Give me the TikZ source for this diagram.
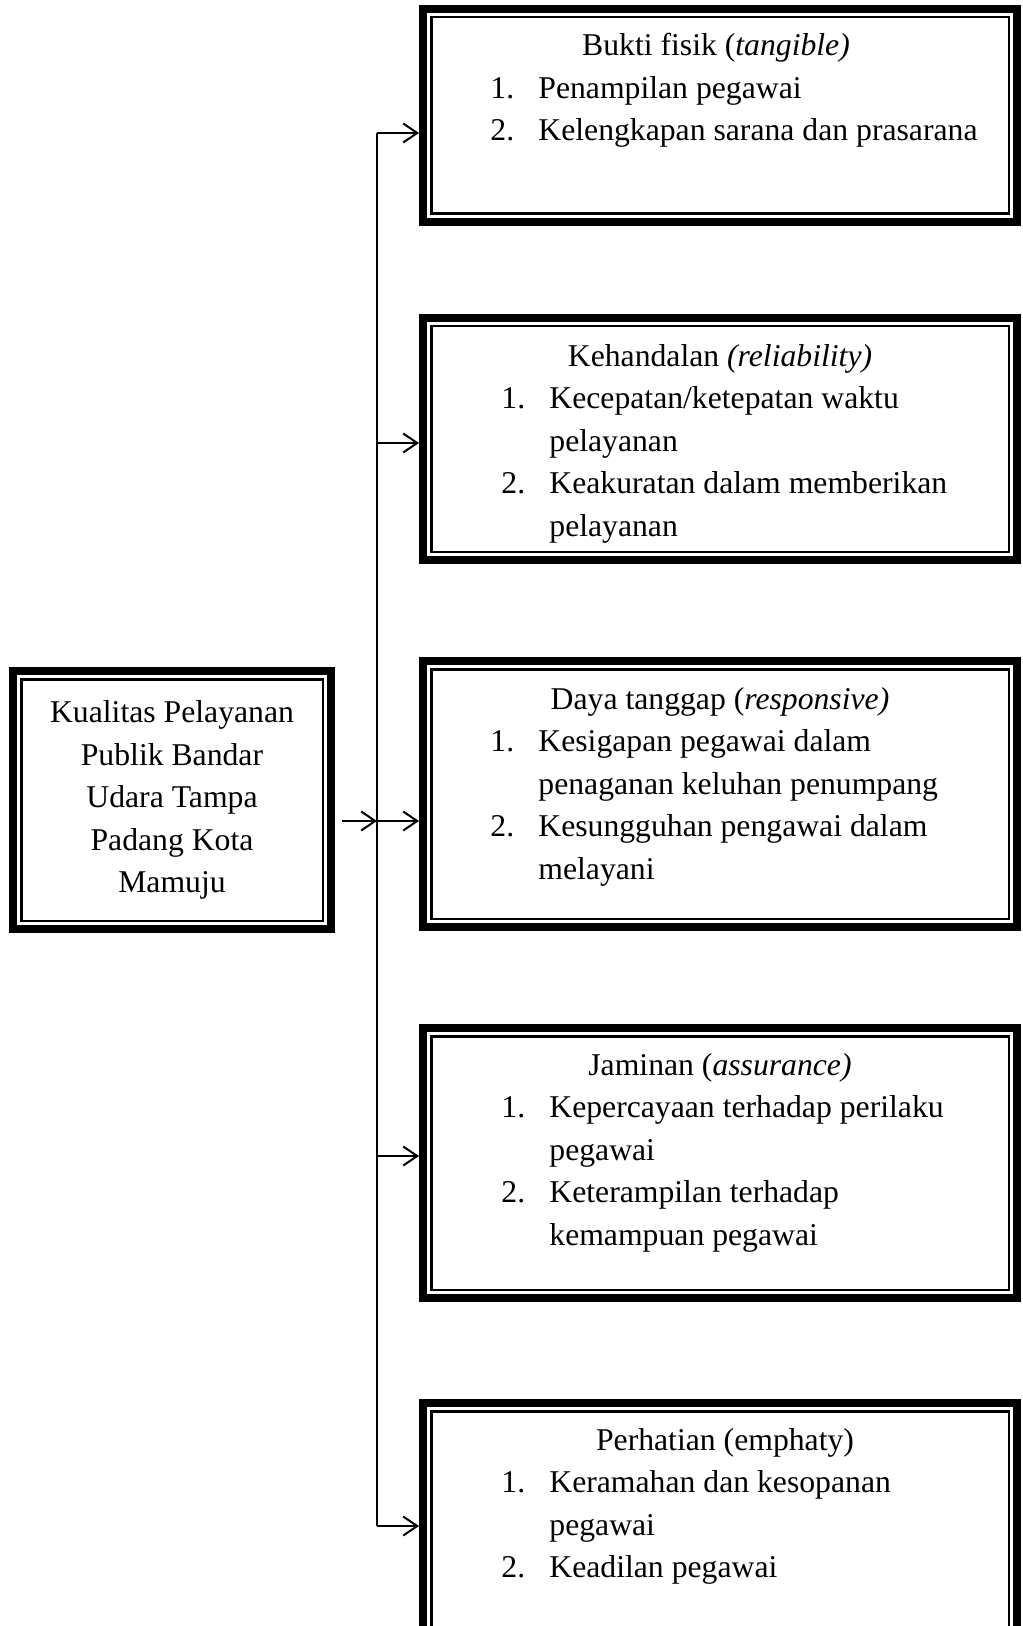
\documentclass[tikz,border=0pt]{standalone}
\usepackage{fontspec}
\setmainfont{Liberation Serif}
\usetikzlibrary{positioning,arrows.meta}

\newcommand{\innerframe}[1]{%
    \draw[line width=1.1pt] ([shift={(6.2pt,-6.2pt)}]#1.north west) rectangle ([shift={(-6.2pt,6.2pt)}]#1.south east);}

\begin{document}
\begin{tikzpicture}[
    x=0.5pt, y=-0.5pt,
    every node/.style={font=\fontsize{15.85}{21.25}\selectfont},
    kotak/.style={draw, line width=4pt, minimum width=297pt, inner sep=0pt},
    kiri/.style={draw, line width=4pt, minimum width=159pt, minimum height=129pt, align=center, inner sep=0pt},
    judul/.style={anchor=base},
    daftar/.style={anchor=base west, inner sep=0pt},
    panah/.style={-{Straight Barb[length=7pt,width=9.5pt]}, line width=1pt},
    garis/.style={line width=1pt}
]
    \useasboundingbox (0,0) rectangle (1022,1626);

    \node[kiri] (kualitas) at (172,800) {Kualitas Pelayanan\\Publik Bandar\\Udara Tampa\\Padang Kota\\Mamuju};
    \node[kotak, minimum height=106.5pt] (fisik) at (720,115.5) {};
    \node[kotak, minimum height=121pt] (handal) at (720,439) {};
    \node[kotak, minimum height=133pt] (tanggap) at (720,794) {};
    \node[kotak, minimum height=135pt] (jaminan) at (720,1163) {};
    \node[kotak, minimum height=129pt] (perhatian) at (720,1532) {};
    \foreach \n in {kualitas,fisik,handal,tanggap,jaminan,perhatian}
        \innerframe{\n};

    \node[judul] (fisikjudul) at (716,56) {Bukti fisik (\textit{tangible)}};
    \node[daftar] (fisikisi) at (490,98.5) {\begin{tabular}[t]{@{}p{24pt}@{}l@{}}
        1. & Penampilan pegawai\\
        2. & Kelengkapan sarana dan prasarana
    \end{tabular}};

    \node[judul] (handaljudul) at (720,366) {Kehandalan \textit{(reliability)}};
    \node[daftar] (handalisi) at (501,408.5) {\begin{tabular}[t]{@{}p{24pt}@{}l@{}}
        1. & Kecepatan/ketepatan waktu\\
           & pelayanan\\
        2. & Keakuratan dalam memberikan\\
           & pelayanan
    \end{tabular}};

    \node[judul] (tanggapjudul) at (720,709) {Daya tanggap (\textit{responsive)}};
    \node[daftar] (tanggapisi) at (490,751.5) {\begin{tabular}[t]{@{}p{24pt}@{}l@{}}
        1. & Kesigapan pegawai dalam\\
           & penaganan keluhan penumpang\\
        2. & Kesungguhan pengawai dalam\\
           & melayani
    \end{tabular}};

    \node[judul] (jaminanjudul) at (720,1075) {Jaminan (\textit{assurance)}};
    \node[daftar] (jaminanisi) at (501,1117.5) {\begin{tabular}[t]{@{}p{24pt}@{}l@{}}
        1. & Kepercayaan terhadap perilaku\\
           & pegawai\\
        2. & Keterampilan terhadap\\
           & kemampuan pegawai
    \end{tabular}};

    \node[judul] (perhatianjudul) at (725,1450) {Perhatian (emphaty)};
    \node[daftar] (perhatianisi) at (501,1492.5) {\begin{tabular}[t]{@{}p{24pt}@{}l@{}}
        1. & Keramahan dan kesopanan\\
           & pegawai\\
        2. & Keadilan pegawai
    \end{tabular}};

    \coordinate (c1) at (377,133);
    \coordinate (c2) at (377,443);
    \coordinate (c3) at (377,821);
    \coordinate (c4) at (377,1156);
    \coordinate (c5) at (377,1526);

    \draw[garis] (c1) -- (c5);
    \draw[panah, shorten <=3.5pt] (kualitas.east |- c3) -- (c3);
    \draw[panah] (c1) -- (c1 -| fisik.west);
    \draw[panah] (c2) -- (c2 -| handal.west);
    \draw[panah] (c3) -- (c3 -| tanggap.west);
    \draw[panah] (c4) -- (c4 -| jaminan.west);
    \draw[panah] (c5) -- (c5 -| perhatian.west);
\end{tikzpicture}
\end{document}
